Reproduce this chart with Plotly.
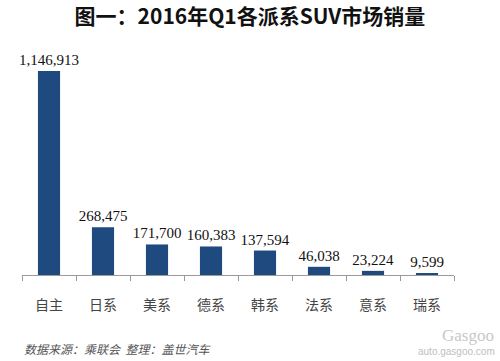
import plotly.graph_objects as go

categories = ["自主", "日系", "美系", "德系", "韩系", "法系", "意系", "瑞系"]
sales = [1146913, 268475, 171700, 160383, 137594, 46038, 23224, 9599]
labels = [f"{v:,}" for v in sales]

fig = go.Figure()
fig.add_trace(go.Bar(
    x=categories, y=sales, width=0.41,
    marker=dict(color="#1f4a7f", line=dict(width=0)),
    text=labels, textposition="outside", cliponaxis=False, constraintext="none",
    textfont=dict(family="Liberation Serif", size=15, color="#111111"),
))

fig.update_layout(
    width=500, height=361,
    margin=dict(l=22, r=46, t=60, b=86, autoexpand=False),
    paper_bgcolor="white", plot_bgcolor="white",
    showlegend=False,
    title=dict(text="<b>图一：2016年Q1各派系SUV市场销量</b>", x=0.5, xanchor="center",
               y=0.953, yanchor="middle",
               font=dict(family="Noto Sans CJK SC", size=21, color="#111111")),
    xaxis=dict(showline=True, linecolor="#9a9a9a", linewidth=1, automargin=False,
               ticks="outside", ticklen=5, tickcolor="#9a9a9a", tickson="boundaries",
               ticklabelstandoff=17,
               tickfont=dict(family="Noto Sans CJK SC", size=14, color="#444444"),
               showgrid=False),
    yaxis=dict(visible=False, range=[0, 1208758], showgrid=False, automargin=False),
    annotations=[
        dict(text="<i>数据来源：乘联会  整理：盖世汽车</i>", xref="paper", yref="paper",
             x=0.0, y=-0.344, xanchor="left", yanchor="middle", showarrow=False,
             font=dict(family="Noto Sans CJK SC", size=12, color="#555555")),
        dict(text="Gasgoo", xref="paper", yref="paper",
             x=1.097, y=-0.28, xanchor="right", yanchor="middle", showarrow=False,
             font=dict(family="Liberation Serif", size=17, color="#c8c8c8")),
        dict(text="auto.gasgoo.com", xref="paper", yref="paper",
             x=1.1, y=-0.358, xanchor="right", yanchor="middle", showarrow=False,
             font=dict(family="Liberation Sans", size=10, color="#c0c0c0")),
    ],
)

fig.write_html("out.html", config={"displayModeBar": False},
               post_script="document.body.style.margin='0';document.body.style.overflow='hidden';")
